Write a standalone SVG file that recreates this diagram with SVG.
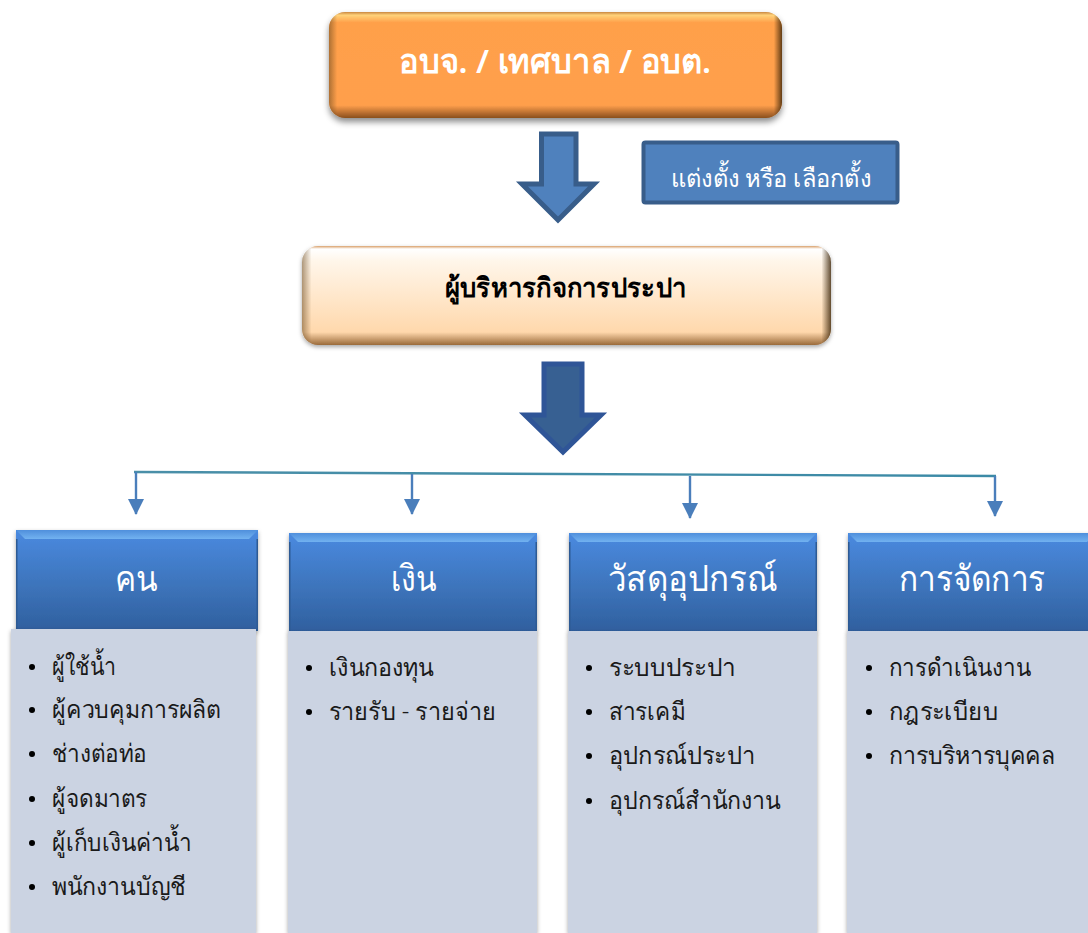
<svg xmlns="http://www.w3.org/2000/svg" width="1088" height="933" viewBox="0 0 1088 933">
<style>
text{font-family:"Noto Sans","Liberation Sans","DejaVu Sans",sans-serif}
.hd{fill:#fff;font-size:36px;font-weight:300}
.it{fill:#1a1a1a;font-size:25px;font-weight:300}
.body{fill:#cbd3e2;filter:url(#s)}
.hdr{fill:url(#hg);filter:url(#s)}
.bev{fill:url(#bv)}
.side{fill:#2d5a94}
.dot{fill:#000}
.cn{stroke:#4a7ebb;stroke-width:2.4;fill:none}
</style>
<defs>
<linearGradient id="hg" x1="0" y1="0" x2="0" y2="1"><stop offset="0" stop-color="#4a8ae0"/><stop offset=".55" stop-color="#3d74bb"/><stop offset="1" stop-color="#2f5f9e"/></linearGradient>
<linearGradient id="bv" x1="0" y1="0" x2="0" y2="1"><stop offset="0" stop-color="#4f8fdc"/><stop offset="1" stop-color="#72b2f0"/></linearGradient>
<linearGradient id="og" x1="0" y1="0" x2="0" y2="1"><stop offset="0" stop-color="#c9873f"/><stop offset=".03" stop-color="#ffd27a"/><stop offset=".1" stop-color="#ffa04a"/><stop offset=".88" stop-color="#ff9f4c"/><stop offset="1" stop-color="#8a4f1c"/></linearGradient>
<linearGradient id="pg" x1="0" y1="0" x2="0" y2="1"><stop offset="0" stop-color="#d9a06a"/><stop offset=".03" stop-color="#fff"/><stop offset=".15" stop-color="#fff6ea"/><stop offset=".87" stop-color="#ffd8ac"/><stop offset="1" stop-color="#9a6a3a"/></linearGradient>
<linearGradient id="ed" x1="0" y1="0" x2="1" y2="0"><stop offset="0" stop-color="#6b4a20" stop-opacity=".55"/><stop offset=".018" stop-color="#6b4a20" stop-opacity="0"/><stop offset=".982" stop-color="#3a2408" stop-opacity="0"/><stop offset="1" stop-color="#3a2408" stop-opacity=".8"/></linearGradient>
<linearGradient id="tl" x1="0" y1="0" x2="1" y2="0"><stop offset="0" stop-color="#4a8fa8"/><stop offset="1" stop-color="#3b8aa6"/></linearGradient>
<filter id="s" x="-10%" y="-10%" width="120%" height="125%"><feDropShadow dx="0" dy="2" stdDeviation="2" flood-color="#000" flood-opacity=".35"/></filter>
<filter id="s2" x="-10%" y="-10%" width="120%" height="130%"><feDropShadow dx="0" dy="4" stdDeviation="3" flood-color="#000" flood-opacity=".45"/></filter>
<marker id="ah" markerUnits="userSpaceOnUse" markerWidth="16" markerHeight="16" refX="15" refY="8" orient="auto"><path d="M0 0L16 8L0 16z" fill="#4a7ebb"/></marker>
</defs>
<g id="top-box"><rect x="329" y="12" width="453" height="106" rx="16" fill="url(#og)" filter="url(#s2)"/><rect x="329" y="12" width="453" height="106" rx="16" fill="url(#ed)"/><text x="399" y="73" fill="#fff" font-size="33" font-weight="600" textLength="312" lengthAdjust="spacingAndGlyphs">อบจ. / เทศบาล / อบต.</text></g>
<g id="arrow-1"><path d="M541.500 134H576V184H594L558 220L522 184H541.500Z" fill="#4f81bd" stroke="#385d8a" stroke-width="5"/></g>
<g id="label-box"><rect x="643.500" y="142.500" width="254" height="60" rx="2" fill="#4f81bd" stroke="#385d8a" stroke-width="4"/><text x="671" y="187" fill="#fff" font-size="25" font-weight="300" textLength="200" lengthAdjust="spacingAndGlyphs">แต่งตั้ง หรือ เลือกตั้ง</text></g>
<g id="manager-box"><rect x="302" y="246" width="529" height="99" rx="16" fill="url(#pg)" filter="url(#s)"/><rect x="302" y="246" width="529" height="99" rx="16" fill="url(#ed)"/><text x="445" y="297" fill="#000" font-size="27" font-weight="600" textLength="241" lengthAdjust="spacingAndGlyphs">ผู้บริหารกิจการประปา</text></g>
<g id="arrow-2"><path d="M544 364H582V415H601L563 452L525 415H544Z" fill="#376092" stroke="#2f5597" stroke-width="5"/></g>
<g id="connectors">
<path d="M134 472L996 476" stroke="url(#tl)" stroke-width="2.400" fill="none"/>
<path class="cn" d="M136 472V514" marker-end="url(#ah)"/>
<path class="cn" d="M412 474V514" marker-end="url(#ah)"/>
<path class="cn" d="M690 476V518" marker-end="url(#ah)"/>
<path class="cn" d="M995 476V516" marker-end="url(#ah)"/>
</g>
<g id="col-people">
<rect class="hdr" x="16" y="530" width="242" height="101"/><path class="bev" d="M16 530H258L249 539H25Z"/>
<rect class="side" x="16" y="539" width="1.500" height="92"/><rect class="side" x="256.500" y="539" width="1.500" height="92"/>
<rect class="body" x="11" y="629" width="245" height="304"/>
<text class="hd" x="115" y="591" textLength="43" lengthAdjust="spacingAndGlyphs">คน</text>
<g class="it"><circle class="dot" cx="32" cy="667" r="3"/><text x="52" y="675" textLength="64" lengthAdjust="spacingAndGlyphs">ผู้ใช้น้ำ</text><circle class="dot" cx="32" cy="710" r="3"/><text x="52" y="718" textLength="169" lengthAdjust="spacingAndGlyphs">ผู้ควบคุมการผลิต</text><circle class="dot" cx="32" cy="754" r="3"/><text x="52" y="762" textLength="95" lengthAdjust="spacingAndGlyphs">ช่างต่อท่อ</text><circle class="dot" cx="32" cy="799" r="3"/><text x="52" y="807" textLength="95" lengthAdjust="spacingAndGlyphs">ผู้จดมาตร</text><circle class="dot" cx="32" cy="843" r="3"/><text x="52" y="851" textLength="140" lengthAdjust="spacingAndGlyphs">ผู้เก็บเงินค่าน้ำ</text><circle class="dot" cx="32" cy="887" r="3"/><text x="52" y="895" textLength="134" lengthAdjust="spacingAndGlyphs">พนักงานบัญชี</text></g>
</g>
<g id="col-money">
<rect class="hdr" x="289" y="533" width="248" height="99"/><path class="bev" d="M289 533H537L528 542H298Z"/>
<rect class="side" x="289" y="542" width="1.500" height="90"/><rect class="side" x="535.500" y="542" width="1.500" height="90"/>
<rect class="body" x="288" y="631" width="249" height="302"/>
<text class="hd" x="391" y="591" textLength="46" lengthAdjust="spacingAndGlyphs">เงิน</text>
<g class="it"><circle class="dot" cx="309" cy="668" r="3"/><text x="329" y="676" textLength="105" lengthAdjust="spacingAndGlyphs">เงินกองทุน</text><circle class="dot" cx="309" cy="712" r="3"/><text x="329" y="720" textLength="167" lengthAdjust="spacingAndGlyphs">รายรับ - รายจ่าย</text></g>
</g>
<g id="col-materials">
<rect class="hdr" x="569" y="533" width="248" height="99"/><path class="bev" d="M569 533H817L808 542H578Z"/>
<rect class="side" x="569" y="542" width="1.500" height="90"/><rect class="side" x="815.500" y="542" width="1.500" height="90"/>
<rect class="body" x="568" y="631" width="249" height="302"/>
<text class="hd" x="608" y="591" textLength="169" lengthAdjust="spacingAndGlyphs">วัสดุอุปกรณ์</text>
<g class="it"><circle class="dot" cx="589" cy="668" r="3"/><text x="609" y="676" textLength="127" lengthAdjust="spacingAndGlyphs">ระบบประปา</text><circle class="dot" cx="589" cy="712" r="3"/><text x="609" y="720" textLength="76" lengthAdjust="spacingAndGlyphs">สารเคมี</text><circle class="dot" cx="589" cy="756" r="3"/><text x="609" y="764" textLength="146" lengthAdjust="spacingAndGlyphs">อุปกรณ์ประปา</text><circle class="dot" cx="589" cy="801" r="3"/><text x="609" y="809" textLength="172" lengthAdjust="spacingAndGlyphs">อุปกรณ์สำนักงาน</text></g>
</g>
<g id="col-management">
<rect class="hdr" x="848" y="533" width="248" height="99"/><path class="bev" d="M848 533H1096L1087 542H857Z"/>
<rect class="side" x="848" y="542" width="1.500" height="90"/>
<rect class="body" x="847" y="631" width="249" height="302"/>
<text class="hd" x="899" y="591" textLength="146" lengthAdjust="spacingAndGlyphs">การจัดการ</text>
<g class="it"><circle class="dot" cx="869" cy="668" r="3"/><text x="889" y="676" textLength="142" lengthAdjust="spacingAndGlyphs">การดำเนินงาน</text><circle class="dot" cx="869" cy="712" r="3"/><text x="889" y="720" textLength="109" lengthAdjust="spacingAndGlyphs">กฎระเบียบ</text><circle class="dot" cx="869" cy="756" r="3"/><text x="889" y="764" textLength="166" lengthAdjust="spacingAndGlyphs">การบริหารบุคคล</text></g>
</g>
</svg>
